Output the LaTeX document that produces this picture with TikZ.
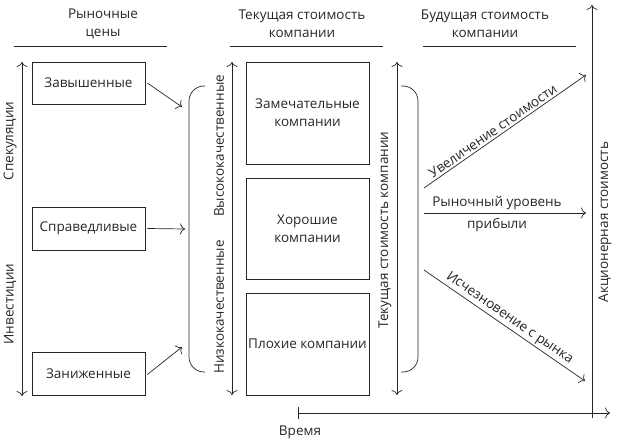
\documentclass[tikz,border=0pt]{standalone}
\usepackage{fontspec}
\setmainfont{Open Sans}
\usetikzlibrary{arrows.meta}
\begin{document}
\begin{tikzpicture}[x=1pt,y=-1pt,
  font=\fontsize{13.5}{18}\selectfont,
  every node/.style={text=black!85},
  ln/.style={draw=black!85, line width=0.7pt},
  arr/.style={ln, -{To[length=5pt,width=11pt]}},
  darr/.style={ln, {To[length=5pt,width=11pt]}-{To[length=5pt,width=11pt]}},
  box/.style={ln, minimum width=113pt, inner sep=0pt},
  bigbox/.style={ln, minimum width=123pt, inner sep=0pt, align=center},
  hdr/.style={align=center},
  vlab/.style={rotate=90}
]
\useasboundingbox (0,0) rectangle (619,444);

% headers
\node[hdr] (h1) at (103,24) {Рыночные\\цены};
\node[hdr] (h2) at (302,24) {Текущая стоимость\\компании};
\node[hdr] (h3) at (485,24) {Будущая стоимость\\компании};
\coordinate (l1a) at (14,46);  \coordinate (l1b) at (167,46);
\coordinate (l2a) at (230,46); \coordinate (l2b) at (383,46);
\coordinate (l3a) at (423,46); \coordinate (l3b) at (576,46);
\draw[ln] (l1a) -- (l1b);
\draw[ln] (l2a) -- (l2b);
\draw[ln] (l3a) -- (l3b);

% left axis
\coordinate (va1) at (22,62); \coordinate (vb1) at (22,396);
\draw[darr] (va1) -- (vb1);
\node[vlab] (spec) at (10,141) {Спекуляции};
\node[vlab] (inv) at (10,304) {Инвестиции};

% price boxes
\node[box, minimum height=42pt] (b1) at (88.5,83) {Завышенные};
\node[box, minimum height=43pt] (b2) at (88.5,228.5) {Справедливые};
\node[box, minimum height=43pt] (b3) at (88.5,373.5) {Заниженные};

\coordinate (e1) at (182,107);
\coordinate (e2) at (185,229);
\coordinate (e3) at (182,347);
\draw[arr] ([xshift=2pt]b1.east) -- (e1);
\draw[arr] ([xshift=2pt]b2.east) -- (e2);
\draw[arr] ([xshift=2pt,yshift=-1pt]b3.east) -- (e3);

% left bracket
\coordinate (bl1) at (205,86); \coordinate (bl2) at (205,372);
\draw[ln, rounded corners=15pt] (bl1) -| (189,372) -- (bl2);

% second axis
\coordinate (va2) at (232,62); \coordinate (vb2) at (232,395);
\draw[darr] (va2) -- (vb2);
\node[vlab] (hq) at (219,146) {Высококачественные};
\node[vlab] (lq) at (219,307) {Низкокачественные};

% company boxes
\node[bigbox, minimum height=102pt] (B1) at (307.5,113) {Замечательные\\компании};
\node[bigbox, minimum height=101pt] (B2) at (307.5,228.5) {Хорошие\\компании};
\node[bigbox, minimum height=102pt] (B3) at (307.5,344) {Плохие компании};

% third axis
\coordinate (va3) at (397,62); \coordinate (vb3) at (397,395);
\draw[darr] (va3) -- (vb3);
\node[vlab] (cur) at (385,230) {Текущая стоимость компании};

% right bracket
\coordinate (br1) at (401,86); \coordinate (br2) at (401,372);
\draw[ln, rounded corners=15pt] (br1) -| (418,372) -- (br2);

% future arrows
\coordinate (f1a) at (424,188); \coordinate (f1b) at (586,75);
\coordinate (f2a) at (424,213); \coordinate (f2b) at (586,213);
\coordinate (f3a) at (424,270); \coordinate (f3b) at (585,381);
\draw[arr] (f1a) -- node[pos=0.45, above, sloped, inner sep=2pt] (t1) {Увеличение стоимости} (f1b);
\draw[arr] (f2a) -- (f2b);
\node (t2a) at (497,203) {Рыночный уровень};
\node (t2b) at (497,225) {прибыли};
\draw[arr] (f3a) -- node[pos=0.5, above, sloped, inner sep=2pt] (t3) {Исчезновение с рынка} (f3b);

% value / time axes
\coordinate (ya) at (592,418); \coordinate (yb) at (592,5);
\draw[arr] (ya) -- (yb);
\node[vlab] (stock) at (605,222) {Акционерная стоимость};
\coordinate (xa) at (298,413); \coordinate (xb) at (610,413);
\draw[ln, {Bar[width=12pt]}-{To[length=5pt,width=11pt]}] (xa) -- (xb);
\node (time) at (300,432) {Время};
\end{tikzpicture}
\end{document}
